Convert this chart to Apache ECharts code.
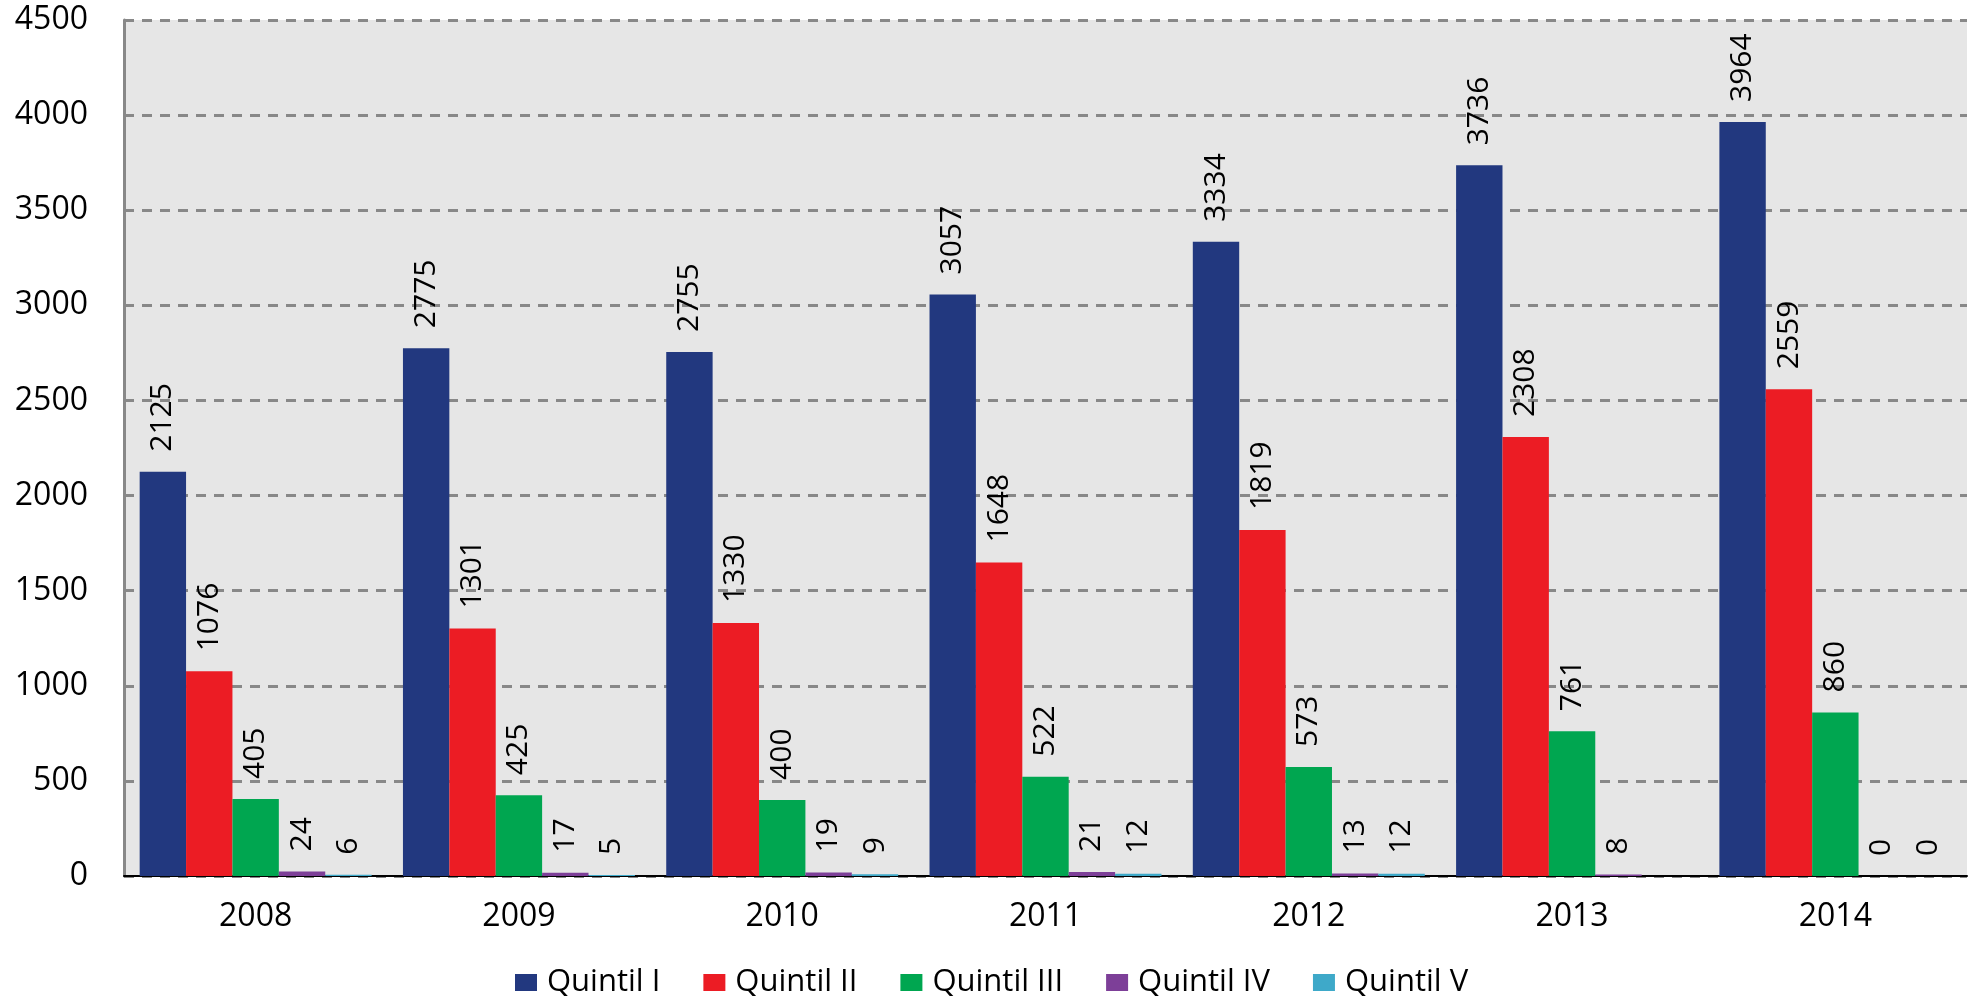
<!DOCTYPE html>
<html>
<head>
<meta charset="utf-8">
<title>Quintil</title>
<script src="https://cdn.jsdelivr.net/npm/echarts@6/dist/echarts.min.js"></script>
<style>
  html, body { margin: 0; padding: 0; background: #fff; }
  #chart { width: 1977px; height: 1000px; }
</style>
</head>
<body>
<div id="chart"></div>
<script>
const years = ['2008', '2009', '2010', '2011', '2012', '2013', '2014'];
const seriesNames = ['Quintil I', 'Quintil II', 'Quintil III', 'Quintil IV', 'Quintil V'];
const quintil1 = [2125, 2775, 2755, 3057, 3334, 3736, 3964];
const quintil2 = [1076, 1301, 1330, 1648, 1819, 2308, 2559];
const quintil3 = [405, 425, 400, 522, 573, 761, 860];
const quintil4 = [24, 17, 19, 21, 13, 8, 0];
const quintil5 = [6, 5, 9, 12, 12, '-', 0];
const colors = ['#22387f', '#ec1c24', '#00a650', '#7d3f98', '#3ea9c9'];

const chart = echarts.init(document.getElementById('chart'));
const font = 'Open Sans';

const makeSeries = (name, data, color) => ({
  name,
  type: 'bar',
  data,
  barGap: '0%',
  barCategoryGap: '11.9%',
  itemStyle: { color },
  label: {
    show: true,
    position: 'top',
    distance: 20,
    rotate: 90,
    align: 'left',
    verticalAlign: 'middle',
    color: '#000',
    fontFamily: font,
    fontSize: 30
  }
});

const option = {
  animation: false,
  backgroundColor: '#fff',
  textStyle: { fontFamily: font },
  color: colors,
  grid: {
    left: 124,
    right: 10,
    top: 20,
    bottom: 124,
    show: true,
    backgroundColor: '#e6e6e6',
    borderWidth: 0
  },
  legend: {
    top: 962,
    left: 510,
    icon: 'rect',
    itemWidth: 22,
    itemHeight: 17,
    itemGap: 43,
    textStyle: { color: '#000', fontSize: 31, fontFamily: font, padding: [0, 0, 0, 5] }
  },
  xAxis: {
    type: 'category',
    data: years,
    axisLine: { lineStyle: { color: '#000', width: 2 } },
    axisTick: { show: false },
    axisLabel: { color: '#000', fontSize: 32, fontFamily: font, margin: 25 }
  },
  yAxis: {
    type: 'value',
    min: 0,
    max: 4500,
    interval: 500,
    axisLine: { show: true, lineStyle: { color: '#888', width: 3 } },
    axisTick: { show: false },
    axisLabel: {
      color: '#000',
      fontSize: 32,
      fontFamily: font,
      margin: 36,
      formatter: (v) => String(v)
    },
    splitLine: { lineStyle: { color: '#888', width: 3, type: [10, 8] } }
  },
  series: [
    makeSeries(seriesNames[0], quintil1, colors[0]),
    makeSeries(seriesNames[1], quintil2, colors[1]),
    makeSeries(seriesNames[2], quintil3, colors[2]),
    makeSeries(seriesNames[3], quintil4, colors[3]),
    makeSeries(seriesNames[4], quintil5, colors[4])
  ]
};

chart.setOption(option);
</script>
</body>
</html>
